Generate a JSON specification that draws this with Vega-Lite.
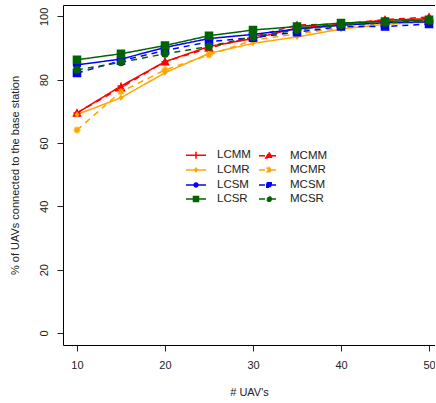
{
  "$schema": "https://vega.github.io/schema/vega-lite/v6.json",
  "width": 372,
  "height": 340,
  "autosize": "none",
  "padding": {"left": 63, "top": 5, "right": 0, "bottom": 58},
  "background": "white",
  "config": {
    "font": "Liberation Sans",
    "view": {"stroke": "black", "strokeWidth": 1},
    "axis": {"grid": false, "domain": false, "tickColor": "#222", "labelColor": "#222", "titleColor": "#222", "labelFontSize": 11, "titleFontSize": 11, "titleFontWeight": "normal", "tickSize": 6, "labelFont": "Liberation Sans", "titleFont": "Liberation Sans"}
  },
  "data": {"values": [
    {"s": "LCMM", "x": 10, "y": 69.5}, {"s": "LCMM", "x": 15, "y": 78}, {"s": "LCMM", "x": 20, "y": 85.7}, {"s": "LCMM", "x": 25, "y": 90.5}, {"s": "LCMM", "x": 30, "y": 93}, {"s": "LCMM", "x": 35, "y": 96.3}, {"s": "LCMM", "x": 40, "y": 97.5}, {"s": "LCMM", "x": 45, "y": 98.8}, {"s": "LCMM", "x": 50, "y": 99.3},
    {"s": "MCMM", "x": 10, "y": 69.5}, {"s": "MCMM", "x": 15, "y": 77.5}, {"s": "MCMM", "x": 20, "y": 85.7}, {"s": "MCMM", "x": 25, "y": 90}, {"s": "MCMM", "x": 30, "y": 93.5}, {"s": "MCMM", "x": 35, "y": 97.3}, {"s": "MCMM", "x": 40, "y": 97.6}, {"s": "MCMM", "x": 45, "y": 99}, {"s": "MCMM", "x": 50, "y": 99.8},
    {"s": "LCMR", "x": 10, "y": 69}, {"s": "LCMR", "x": 15, "y": 74.3}, {"s": "LCMR", "x": 20, "y": 82.2}, {"s": "LCMR", "x": 25, "y": 88.3}, {"s": "LCMR", "x": 30, "y": 91.5}, {"s": "LCMR", "x": 35, "y": 93.5}, {"s": "LCMR", "x": 40, "y": 96}, {"s": "LCMR", "x": 45, "y": 97.5}, {"s": "LCMR", "x": 50, "y": 98.2},
    {"s": "MCMR", "x": 10, "y": 64.1}, {"s": "MCMR", "x": 15, "y": 76.2}, {"s": "MCMR", "x": 20, "y": 83.1}, {"s": "MCMR", "x": 25, "y": 87.8}, {"s": "MCMR", "x": 30, "y": 92.5}, {"s": "MCMR", "x": 35, "y": 94.5}, {"s": "MCMR", "x": 40, "y": 96.3}, {"s": "MCMR", "x": 45, "y": 98}, {"s": "MCMR", "x": 50, "y": 98.6},
    {"s": "LCSM", "x": 10, "y": 84.7}, {"s": "LCSM", "x": 15, "y": 86.5}, {"s": "LCSM", "x": 20, "y": 90.2}, {"s": "LCSM", "x": 25, "y": 93}, {"s": "LCSM", "x": 30, "y": 94.3}, {"s": "LCSM", "x": 35, "y": 96}, {"s": "LCSM", "x": 40, "y": 97.2}, {"s": "LCSM", "x": 45, "y": 98}, {"s": "LCSM", "x": 50, "y": 98.3},
    {"s": "MCSM", "x": 10, "y": 82.1}, {"s": "MCSM", "x": 15, "y": 86}, {"s": "MCSM", "x": 20, "y": 89.2}, {"s": "MCSM", "x": 25, "y": 92}, {"s": "MCSM", "x": 30, "y": 93.3}, {"s": "MCSM", "x": 35, "y": 95}, {"s": "MCSM", "x": 40, "y": 96.8}, {"s": "MCSM", "x": 45, "y": 96.8}, {"s": "MCSM", "x": 50, "y": 97.6},
    {"s": "LCSR", "x": 10, "y": 86.3}, {"s": "LCSR", "x": 15, "y": 88.2}, {"s": "LCSR", "x": 20, "y": 90.8}, {"s": "LCSR", "x": 25, "y": 93.9}, {"s": "LCSR", "x": 30, "y": 95.7}, {"s": "LCSR", "x": 35, "y": 96.8}, {"s": "LCSR", "x": 40, "y": 97.9}, {"s": "LCSR", "x": 45, "y": 98.4}, {"s": "LCSR", "x": 50, "y": 98.9},
    {"s": "MCSR", "x": 10, "y": 83.1}, {"s": "MCSR", "x": 15, "y": 85.5}, {"s": "MCSR", "x": 20, "y": 88.2}, {"s": "MCSR", "x": 25, "y": 90.5}, {"s": "MCSR", "x": 30, "y": 93.6}, {"s": "MCSR", "x": 35, "y": 95.7}, {"s": "MCSR", "x": 40, "y": 97.3}, {"s": "MCSR", "x": 45, "y": 98}, {"s": "MCSR", "x": 50, "y": 98.6}
  ]},
  "encoding": {
    "x": {"field": "x", "type": "quantitative", "scale": {"domain": [8.41, 50.68], "nice": false, "zero": false},
      "axis": {"values": [10, 20, 30, 40, 50], "title": "# UAV's", "labelPadding": 8, "titleY": 47, "titleBaseline": "middle"}},
    "y": {"field": "y", "type": "quantitative", "scale": {"domain": [-3.79, 103.6], "nice": false, "zero": false},
      "axis": {"values": [0, 20, 40, 60, 80, 100], "title": "% of UAVs connected to the base station", "labelAngle": 270, "labelAlign": "center", "labelBaseline": "bottom", "labelPadding": 8, "titleX": -48, "titleBaseline": "middle", "titleAngle": 270}},
    "color": {"field": "s", "type": "nominal",
      "scale": {"domain": ["LCMM", "LCMR", "LCSM", "LCSR", "MCMM", "MCMR", "MCSM", "MCSR"],
        "range": ["#ff0000", "#ffa500", "#0000ff", "#006400", "#ff0000", "#ffa500", "#0000ff", "#006400"]}}
  },
  "resolve": {"scale": {"shape": "independent"}},
  "layer": [
    {
      "mark": {"type": "line", "strokeWidth": 1.5, "clip": true},
      "encoding": {
        "strokeDash": {"field": "s", "type": "nominal",
          "scale": {"domain": ["LCMM", "LCMR", "LCSM", "LCSR", "MCMM", "MCMR", "MCSM", "MCSR"],
            "range": [[1, 0], [1, 0], [1, 0], [1, 0], [6, 5], [6, 5], [6, 5], [6, 5]]}},
        "color": {"field": "s", "type": "nominal",
          "legend": {
            "orient": "none", "legendX": 125, "legendY": 142, "columns": 2, "title": null, "padding": 0,
            "labelFont": "Liberation Sans", "labelFontSize": 11.5, "labelColor": "#222",
            "symbolSize": 190, "symbolStrokeWidth": 1.5, "rowPadding": 0, "columnPadding": 5, "labelOffset": 13,
            "encode": {"symbols": {"update": {
              "shape": {"signal": "datum.value=='LCMM' ? 'M-1.45,0H1.45M0,-0.5V0.5' : datum.value=='MCMM' ? 'M-1.45,0H1.45M0,-0.5L0.45,0.32H-0.45Z' : datum.value=='LCMR' ? 'M-1.45,0H1.45M0,-0.25L0.2,0L0,0.25L-0.2,0Z' : datum.value=='MCMR' ? 'M-1.45,0H1.45M0,-0.5V0.5M-0.36,-0.36L0.36,0.36M-0.36,0.36L0.36,-0.36' : datum.value=='LCSM' ? 'M-1.45,0H1.45M0.28,0A0.28,0.28,0,1,1,-0.28,0A0.28,0.28,0,1,1,0.28,0Z' : datum.value=='MCSM' ? 'M-1.45,0H1.45M-0.32,-0.32H0.32V0.32H-0.32Z' : datum.value=='LCSR' ? 'M-1.45,0H1.45M-0.37,-0.37H0.37V0.37H-0.37Z' : 'M-1.45,0H1.45M0.34,0A0.34,0.34,0,1,1,-0.34,0A0.34,0.34,0,1,1,0.34,0Z'"},
              "fill": {"signal": "scale('color', datum.value)"},
              "fillOpacity": {"value": 1}
            }}}
          }}
      }
    },
    {
      "mark": {"type": "point", "filled": true, "size": 50, "strokeWidth": 1.5, "opacity": 1, "clip": true},
      "encoding": {
        "color": {"field": "s", "type": "nominal", "legend": null},
        "stroke": {"field": "s", "type": "nominal", "legend": null, "scale": {"domain": ["LCMM", "LCMR", "LCSM", "LCSR", "MCMM", "MCMR", "MCSM", "MCSR"],
          "range": ["#ff0000", "#ffa500", "#0000ff", "#006400", "#ff0000", "#ffa500", "#0000ff", "#006400"]}},
        "shape": {"field": "s", "type": "nominal", "legend": null,
          "scale": {"domain": ["LCMM", "LCMR", "LCSM", "LCSR", "MCMM", "MCMR", "MCSM", "MCSR"],
            "range": ["M-1,0H1M0,-1V1", "M0,-0.5L0.4,0L0,0.5L-0.4,0Z", "circle", "square", "triangle-up", "M-1,0H1M0,-1V1M-0.7,-0.7L0.7,0.7M-0.7,0.7L0.7,-0.7", "square", "M0.9,0A0.9,0.9,0,1,1,-0.9,0A0.9,0.9,0,1,1,0.9,0Z"]}}
      }
    }
  ]
}
